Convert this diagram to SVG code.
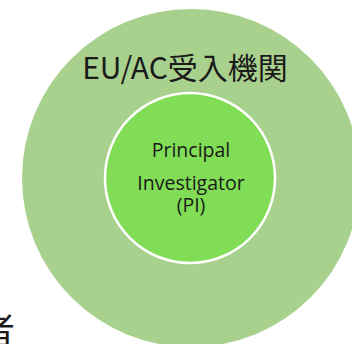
<svg xmlns="http://www.w3.org/2000/svg" width="352" height="344" viewBox="0 0 352 344">
  <style>
    .lbl { font-family: "Open Sans", "Noto Sans", "Noto Sans CJK JP", sans-serif; fill: #1a1a1a; text-anchor: middle; }
    .jp { font-family: "Noto Sans CJK JP", "Noto Sans", sans-serif; fill: #1a1a1a; }
  </style>
  <rect width="352" height="344" fill="#ffffff"/>
  <g id="eu-ac">
    <circle cx="191" cy="178" r="169" fill="#a9d18e"/>
    <text class="jp" x="185" y="79" font-size="30" text-anchor="middle">EU/AC受入機関</text>
  </g>
  <g id="pi">
    <circle cx="190" cy="178" r="85" fill="#80dd55" stroke="#ffffff" stroke-width="2.5"/>
    <text class="lbl" x="191" y="157" font-size="19.5">Principal</text>
    <text class="lbl" x="191" y="190" font-size="19.5">Investigator</text>
    <text class="lbl" x="191" y="212" font-size="19.5">(PI)</text>
  </g>
  <g id="fragment">
    <text class="jp" x="15" y="344" font-size="36" text-anchor="end">者</text>
  </g>
  <g id="connectors"/>
</svg>
